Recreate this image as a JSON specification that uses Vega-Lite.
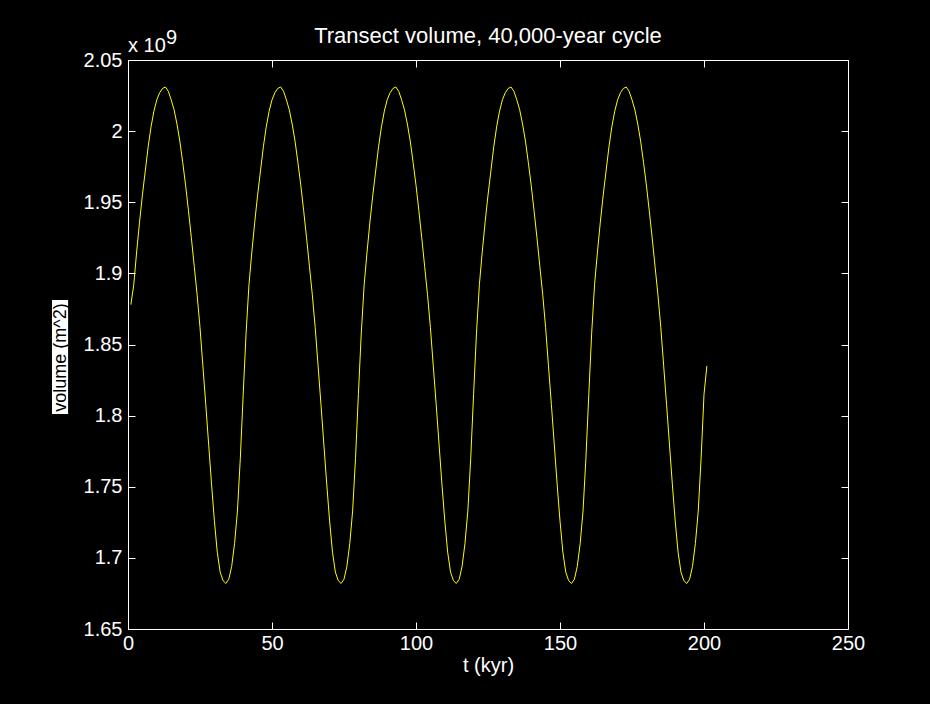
{
  "$schema": "https://vega.github.io/schema/vega-lite/v6.json",
  "width": 720,
  "height": 569,
  "autosize": {"type": "none"},
  "padding": {"left": 128, "top": 60, "right": 82, "bottom": 75},
  "background": "black",
  "config": {
    "view": {"stroke": null},
    "font": "Liberation Sans",
    "axis": {
      "domainColor": "white",
      "tickColor": "white",
      "labelColor": "white",
      "titleColor": "white",
      "labelFont": "Liberation Sans",
      "titleFont": "Liberation Sans",
      "labelFontSize": 20,
      "titleFontSize": 20,
      "titleFontWeight": "normal",
      "grid": false,
      "tickSize": -7,
      "domainWidth": 1,
      "tickWidth": 1
    }
  },
  "title": {
    "text": "Transect volume, 40,000-year cycle",
    "color": "white",
    "font": "Liberation Sans",
    "fontSize": 22,
    "fontWeight": "normal",
    "anchor": "middle",
    "frame": "group",
    "baseline": "alphabetic",
    "offset": 0,
    "dy": 37
  },
  "data": {
    "values": [
      {"t":1,"volume":1878000000},{"t":2,"volume":1892000000},{"t":3,"volume":1915000000},{"t":4,"volume":1936000000},{"t":5,"volume":1955000000},{"t":6,"volume":1972000000},{"t":7,"volume":1989000000},{"t":8,"volume":2003000000},{"t":9,"volume":2014000000},{"t":10,"volume":2022000000},
      {"t":11,"volume":2027000000},{"t":12,"volume":2030000000},{"t":13,"volume":2031000000},{"t":14,"volume":2028000000},{"t":15,"volume":2022000000},{"t":16,"volume":2015000000},{"t":17,"volume":2005000000},{"t":18,"volume":1993000000},{"t":19,"volume":1978000000},{"t":20,"volume":1962000000},
      {"t":21,"volume":1944000000},{"t":22,"volume":1925000000},{"t":23,"volume":1905000000},{"t":24,"volume":1885000000},{"t":25,"volume":1862000000},{"t":26,"volume":1835000000},{"t":27,"volume":1808000000},{"t":28,"volume":1780000000},{"t":29,"volume":1752000000},{"t":30,"volume":1726000000},
      {"t":31,"volume":1704000000},{"t":32,"volume":1690000000},{"t":33,"volume":1684000000},{"t":34,"volume":1682000000},{"t":35,"volume":1685000000},{"t":36,"volume":1694000000},{"t":37,"volume":1710000000},{"t":38,"volume":1733000000},{"t":39,"volume":1770000000},{"t":40,"volume":1815000000},
      {"t":41,"volume":1858000000},{"t":42,"volume":1892000000},{"t":43,"volume":1915000000},{"t":44,"volume":1936000000},{"t":45,"volume":1955000000},{"t":46,"volume":1972000000},{"t":47,"volume":1989000000},{"t":48,"volume":2003000000},{"t":49,"volume":2014000000},{"t":50,"volume":2022000000},
      {"t":51,"volume":2027000000},{"t":52,"volume":2030000000},{"t":53,"volume":2031000000},{"t":54,"volume":2028000000},{"t":55,"volume":2022000000},{"t":56,"volume":2015000000},{"t":57,"volume":2005000000},{"t":58,"volume":1993000000},{"t":59,"volume":1978000000},{"t":60,"volume":1962000000},
      {"t":61,"volume":1944000000},{"t":62,"volume":1925000000},{"t":63,"volume":1905000000},{"t":64,"volume":1885000000},{"t":65,"volume":1862000000},{"t":66,"volume":1835000000},{"t":67,"volume":1808000000},{"t":68,"volume":1780000000},{"t":69,"volume":1752000000},{"t":70,"volume":1726000000},
      {"t":71,"volume":1704000000},{"t":72,"volume":1690000000},{"t":73,"volume":1684000000},{"t":74,"volume":1682000000},{"t":75,"volume":1685000000},{"t":76,"volume":1694000000},{"t":77,"volume":1710000000},{"t":78,"volume":1733000000},{"t":79,"volume":1770000000},{"t":80,"volume":1815000000},
      {"t":81,"volume":1858000000},{"t":82,"volume":1892000000},{"t":83,"volume":1915000000},{"t":84,"volume":1936000000},{"t":85,"volume":1955000000},{"t":86,"volume":1972000000},{"t":87,"volume":1989000000},{"t":88,"volume":2003000000},{"t":89,"volume":2014000000},{"t":90,"volume":2022000000},
      {"t":91,"volume":2027000000},{"t":92,"volume":2030000000},{"t":93,"volume":2031000000},{"t":94,"volume":2028000000},{"t":95,"volume":2022000000},{"t":96,"volume":2015000000},{"t":97,"volume":2005000000},{"t":98,"volume":1993000000},{"t":99,"volume":1978000000},{"t":100,"volume":1962000000},
      {"t":101,"volume":1944000000},{"t":102,"volume":1925000000},{"t":103,"volume":1905000000},{"t":104,"volume":1885000000},{"t":105,"volume":1862000000},{"t":106,"volume":1835000000},{"t":107,"volume":1808000000},{"t":108,"volume":1780000000},{"t":109,"volume":1752000000},{"t":110,"volume":1726000000},
      {"t":111,"volume":1704000000},{"t":112,"volume":1690000000},{"t":113,"volume":1684000000},{"t":114,"volume":1682000000},{"t":115,"volume":1685000000},{"t":116,"volume":1694000000},{"t":117,"volume":1710000000},{"t":118,"volume":1733000000},{"t":119,"volume":1770000000},{"t":120,"volume":1815000000},
      {"t":121,"volume":1858000000},{"t":122,"volume":1892000000},{"t":123,"volume":1915000000},{"t":124,"volume":1936000000},{"t":125,"volume":1955000000},{"t":126,"volume":1972000000},{"t":127,"volume":1989000000},{"t":128,"volume":2003000000},{"t":129,"volume":2014000000},{"t":130,"volume":2022000000},
      {"t":131,"volume":2027000000},{"t":132,"volume":2030000000},{"t":133,"volume":2031000000},{"t":134,"volume":2028000000},{"t":135,"volume":2022000000},{"t":136,"volume":2015000000},{"t":137,"volume":2005000000},{"t":138,"volume":1993000000},{"t":139,"volume":1978000000},{"t":140,"volume":1962000000},
      {"t":141,"volume":1944000000},{"t":142,"volume":1925000000},{"t":143,"volume":1905000000},{"t":144,"volume":1885000000},{"t":145,"volume":1862000000},{"t":146,"volume":1835000000},{"t":147,"volume":1808000000},{"t":148,"volume":1780000000},{"t":149,"volume":1752000000},{"t":150,"volume":1726000000},
      {"t":151,"volume":1704000000},{"t":152,"volume":1690000000},{"t":153,"volume":1684000000},{"t":154,"volume":1682000000},{"t":155,"volume":1685000000},{"t":156,"volume":1694000000},{"t":157,"volume":1710000000},{"t":158,"volume":1733000000},{"t":159,"volume":1770000000},{"t":160,"volume":1815000000},
      {"t":161,"volume":1858000000},{"t":162,"volume":1892000000},{"t":163,"volume":1915000000},{"t":164,"volume":1936000000},{"t":165,"volume":1955000000},{"t":166,"volume":1972000000},{"t":167,"volume":1989000000},{"t":168,"volume":2003000000},{"t":169,"volume":2014000000},{"t":170,"volume":2022000000},
      {"t":171,"volume":2027000000},{"t":172,"volume":2030000000},{"t":173,"volume":2031000000},{"t":174,"volume":2028000000},{"t":175,"volume":2022000000},{"t":176,"volume":2015000000},{"t":177,"volume":2005000000},{"t":178,"volume":1993000000},{"t":179,"volume":1978000000},{"t":180,"volume":1962000000},
      {"t":181,"volume":1944000000},{"t":182,"volume":1925000000},{"t":183,"volume":1905000000},{"t":184,"volume":1885000000},{"t":185,"volume":1862000000},{"t":186,"volume":1835000000},{"t":187,"volume":1808000000},{"t":188,"volume":1780000000},{"t":189,"volume":1752000000},{"t":190,"volume":1726000000},
      {"t":191,"volume":1704000000},{"t":192,"volume":1690000000},{"t":193,"volume":1684000000},{"t":194,"volume":1682000000},{"t":195,"volume":1685000000},{"t":196,"volume":1694000000},{"t":197,"volume":1710000000},{"t":198,"volume":1733000000},{"t":199,"volume":1770000000},{"t":200,"volume":1815000000},
      {"t":201,"volume":1835000000}
    ]
  },
  "layer": [
    {
      "data": {"values": [{}]},
      "mark": {"type": "rect", "color": "white"},
      "encoding": {
        "x": {"datum": -26.4, "type": "quantitative", "scale": {"domain": [0, 250], "nice": false, "zero": false},
              "axis": {"orient": "top", "values": [0, 50, 100, 150, 200, 250], "labels": false, "title": null}},
        "x2": {"datum": -20.8},
        "y": {"datum": 1881300000, "type": "quantitative", "scale": {"domain": [1650000000, 2050000000], "nice": false, "zero": false},
              "axis": {"orient": "right", "values": [1650000000, 1700000000, 1750000000, 1800000000, 1850000000, 1900000000, 1950000000, 2000000000, 2050000000], "labels": false, "title": null}},
        "y2": {"datum": 1801100000}
      }
    },
    {
      "mark": {"type": "line", "color": "#ffff00", "strokeWidth": 1},
      "encoding": {
        "x": {"field": "t", "type": "quantitative", "scale": {"domain": [0, 250], "nice": false, "zero": false},
              "axis": {"orient": "bottom", "values": [0, 50, 100, 150, 200, 250], "title": "t (kyr)", "labelPadding": 11, "titlePadding": 2, "labelFlush": false}},
        "y": {"field": "volume", "type": "quantitative", "scale": {"domain": [1650000000, 2050000000], "nice": false, "zero": false},
              "axis": {"orient": "left", "zindex": 1, "values": [1650000000, 1700000000, 1750000000, 1800000000, 1850000000, 1900000000, 1950000000, 2000000000, 2050000000],
                       "labelExpr": "format(datum.value / 1e9, '.2~f')", "labelPadding": 13, "labelFlush": false,
                       "title": "volume (m^2)", "titleColor": "black", "titleFontSize": 18, "titleAngle": 270,
                       "titleAlign": "center", "titleBaseline": "middle", "titleX": -68, "titleY": 297}}
      }
    },
    {
      "data": {"values": [{}]},
      "mark": {"type": "text", "text": "x 10", "color": "white", "font": "Liberation Sans", "fontSize": 20, "align": "left", "baseline": "alphabetic", "dy": -8.5},
      "encoding": {
        "x": {"datum": 0, "type": "quantitative", "axis": null},
        "y": {"datum": 2050000000, "type": "quantitative", "axis": null}
      }
    },
    {
      "data": {"values": [{}]},
      "mark": {"type": "text", "text": "9", "color": "white", "font": "Liberation Sans", "fontSize": 20, "align": "left", "baseline": "alphabetic", "dx": 38, "dy": -16.5},
      "encoding": {
        "x": {"datum": 0, "type": "quantitative", "axis": null},
        "y": {"datum": 2050000000, "type": "quantitative", "axis": null}
      }
    }
  ],
  "resolve": {"axis": {"x": "independent", "y": "independent"}}
}
